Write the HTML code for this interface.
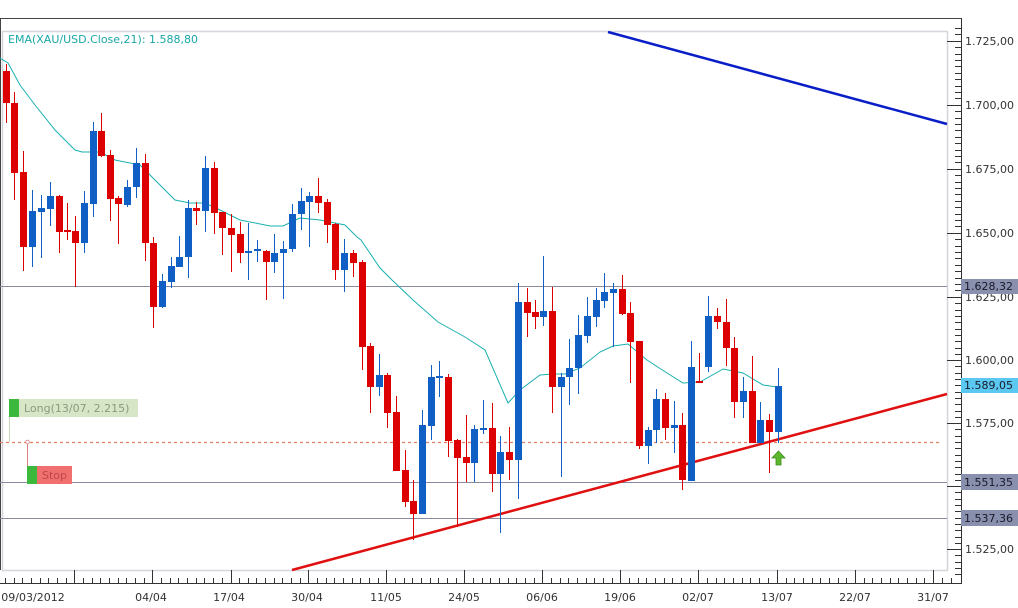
<!DOCTYPE html>
<html><head><meta charset="utf-8"><style>
html,body{margin:0;padding:0;background:#fff;}
svg{display:block;}
text{font-family:"DejaVu Sans","Liberation Sans",sans-serif;}
</style></head><body>
<svg width="1018" height="608" viewBox="0 0 1018 608" xmlns="http://www.w3.org/2000/svg">
<rect width="1018" height="608" fill="#fff"/>
<!-- frames -->
<line x1="0" y1="18.5" x2="961" y2="18.5" stroke="#444" stroke-width="1"/>
<line x1="0.5" y1="18" x2="0.5" y2="570" stroke="#444"/>
<rect x="2.5" y="31.5" width="945" height="539" fill="none" stroke="#d4d6dc" stroke-width="1.5"/>
<line x1="961.5" y1="18" x2="961.5" y2="584" stroke="#333"/>
<line x1="0" y1="583.5" x2="962" y2="583.5" stroke="#333"/>
<text x="8" y="43" font-size="11" fill="#1aa7a7">EMA(XAU/USD.Close,21): 1.588,80</text>
<!-- horizontal levels -->
<g stroke="#8a8aa0" stroke-width="1">
<line x1="0" y1="286.5" x2="947" y2="286.5"/>
<line x1="0" y1="482.5" x2="947" y2="482.5"/>
<line x1="0" y1="518.5" x2="947" y2="518.5"/>
</g>
<line x1="0" y1="442.5" x2="940" y2="442.5" stroke="#e08060" stroke-width="1.2" stroke-dasharray="3,3"/>
<!-- trend lines -->
<line x1="292" y1="570" x2="947" y2="394" stroke="#e01010" stroke-width="2.5"/>
<line x1="608" y1="32" x2="947" y2="124" stroke="#0a1ec8" stroke-width="2.5"/>
<!-- EMA -->
<polyline fill="none" stroke="#1ab0b0" stroke-width="1" points="0,58 8,63 20,85 35,105 55,130 75,150 82,152 100,152 115,160 140,165 150,175 175,200 190,203 205,203 220,210 240,220 270,226 283,226 300,218 320,220 345,225 357,237 361,240 380,268 392,280 413,300 438,322 465,337 485,350 508,403 520,390 540,375 553,374 565,374 580,368 600,352 613,346 628,344 647,360 667,373 683,383 700,382 723,369 743,373 763,385 777,387"/>
<!-- red candles -->
<g fill="#dc0000">
<path stroke="#dc0000" stroke-width="1" fill="none" d="M6.5 64V123M14.5 92V200M23.5 151V271M59.5 195V253M67.5 203V240M75.5 216V287M101.5 113V157M110.5 150V221M118.5 196V244M145.5 154V261M153.5 237V328M196.5 202V225M214.5 162V234M222.5 212V255M231.5 214V272M240.5 222V263M266.5 250V300M318.5 178V213M327.5 199V243M335.5 223V280M353.5 250V277M362.5 260V370M370.5 343V413M387.5 373V428M396.5 396V471M405.5 450V507M413.5 480V540M448.5 374V457M457.5 439V527M466.5 415V482M492.5 403V492M509.5 427V480M527.5 288V337M535.5 300V329M552.5 287V413M622.5 275V315M630.5 302V383M639.5 341V449M665.5 393V440M682.5 413V490M699.5 353V383M717.5 308V329M726.5 299V366M734.5 337V418M752.5 356V443M769.5 414V473"/>
<rect x="3" y="71" width="7" height="32"/><rect x="11" y="103" width="7" height="70"/><rect x="20" y="172" width="7" height="75"/><rect x="56" y="196" width="7" height="36"/><rect x="64" y="230" width="7" height="2"/><rect x="72" y="231" width="7" height="12"/><rect x="98" y="131" width="7" height="25"/><rect x="107" y="155" width="7" height="44"/><rect x="115" y="198" width="7" height="6"/><rect x="142" y="163" width="7" height="80"/><rect x="150" y="243" width="7" height="64"/><rect x="193" y="208" width="7" height="3"/><rect x="211" y="168" width="7" height="45"/><rect x="219" y="212" width="7" height="16"/><rect x="228" y="228" width="7" height="7"/><rect x="237" y="234" width="7" height="19"/><rect x="263" y="251" width="7" height="11"/><rect x="315" y="196" width="7" height="7"/><rect x="324" y="202" width="7" height="23"/><rect x="332" y="224" width="7" height="46"/><rect x="350" y="253" width="7" height="10"/><rect x="359" y="262" width="7" height="85"/><rect x="367" y="346" width="7" height="41"/><rect x="384" y="375" width="7" height="38"/><rect x="393" y="412" width="7" height="59"/><rect x="402" y="470" width="7" height="32"/><rect x="410" y="501" width="7" height="13"/><rect x="445" y="377" width="7" height="64"/><rect x="454" y="440" width="7" height="18"/><rect x="463" y="457" width="7" height="6"/><rect x="489" y="428" width="7" height="46"/><rect x="506" y="452" width="7" height="8"/><rect x="524" y="302" width="7" height="11"/><rect x="532" y="312" width="7" height="5"/><rect x="549" y="311" width="7" height="76"/><rect x="619" y="289" width="7" height="25"/><rect x="627" y="313" width="7" height="29"/><rect x="636" y="341" width="7" height="105"/><rect x="662" y="399" width="7" height="29"/><rect x="679" y="425" width="7" height="55"/><rect x="696" y="381" width="7" height="2"/><rect x="714" y="316" width="7" height="6"/><rect x="723" y="322" width="7" height="26"/><rect x="731" y="348" width="7" height="54"/><rect x="749" y="391" width="7" height="52"/><rect x="766" y="420" width="7" height="12"/>
</g>
<!-- blue candles -->
<g fill="#0f5fc4">
<path stroke="#0f5fc4" stroke-width="1" fill="none" d="M32.5 190V267M41.5 195V258M50.5 182V226M84.5 191V253M93.5 122V217M127.5 180V207M136.5 148V198M162.5 274V308M171.5 257V288M179.5 236V267M188.5 200V278M205.5 156V232M248.5 223V280M257.5 240V262M274.5 234V273M283.5 241V299M292.5 204V252M301.5 188V230M309.5 192V247M344.5 239V292M379.5 354V396M422.5 410V514M431.5 365V440M439.5 361V397M474.5 425V482M483.5 400V434M500.5 436V533M518.5 283V499M543.5 256V326M561.5 373V477M569.5 339V405M578.5 315V394M587.5 297V343M596.5 288V327M604.5 273V308M613.5 283V347M648.5 427V464M656.5 389V443M674.5 401V453M691.5 341V481M708.5 296V372M743.5 377V418M760.5 402V443M778.5 368V443"/>
<rect x="29" y="211" width="7" height="36"/><rect x="38" y="208" width="7" height="4"/><rect x="47" y="196" width="7" height="13"/><rect x="81" y="203" width="7" height="40"/><rect x="90" y="131" width="7" height="73"/><rect x="124" y="187" width="7" height="18"/><rect x="133" y="163" width="7" height="24"/><rect x="159" y="281" width="7" height="26"/><rect x="168" y="266" width="7" height="16"/><rect x="176" y="257" width="7" height="10"/><rect x="185" y="208" width="7" height="49"/><rect x="202" y="168" width="7" height="43"/><rect x="245" y="251" width="7" height="2"/><rect x="254" y="249" width="7" height="2"/><rect x="271" y="253" width="7" height="9"/><rect x="280" y="249" width="7" height="4"/><rect x="289" y="214" width="7" height="35"/><rect x="298" y="201" width="7" height="13"/><rect x="306" y="196" width="7" height="6"/><rect x="341" y="253" width="7" height="17"/><rect x="376" y="375" width="7" height="12"/><rect x="419" y="425" width="7" height="89"/><rect x="428" y="377" width="7" height="49"/><rect x="436" y="376" width="7" height="2"/><rect x="471" y="429" width="7" height="34"/><rect x="480" y="428" width="7" height="2"/><rect x="497" y="452" width="7" height="22"/><rect x="515" y="302" width="7" height="158"/><rect x="540" y="311" width="7" height="6"/><rect x="558" y="377" width="7" height="10"/><rect x="566" y="368" width="7" height="9"/><rect x="575" y="335" width="7" height="33"/><rect x="584" y="316" width="7" height="20"/><rect x="593" y="300" width="7" height="17"/><rect x="601" y="292" width="7" height="9"/><rect x="610" y="289" width="7" height="4"/><rect x="645" y="430" width="7" height="16"/><rect x="653" y="399" width="7" height="31"/><rect x="671" y="425" width="7" height="3"/><rect x="688" y="367" width="7" height="114"/><rect x="705" y="316" width="7" height="51"/><rect x="740" y="391" width="7" height="11"/><rect x="757" y="420" width="7" height="23"/><rect x="775" y="386" width="7" height="46"/>
</g>
<!-- green arrow -->
<path d="M778.5 451 L785 458 L781 458 L781 465 L776 465 L776 458 L772 458 Z" fill="#5cb82c" stroke="#3a8a1a" stroke-width="0.8"/>
<!-- Long/Stop labels -->
<line x1="9.5" y1="417" x2="9.5" y2="442" stroke="#c8d8b8"/>
<rect x="9" y="399" width="10" height="18" fill="#3cb83c"/>
<rect x="19" y="399" width="119" height="18" fill="#d8e6c8"/>
<text x="24" y="412" font-size="11" fill="#8a9a80">Long(13/07, 2.215)</text>
<circle cx="27.5" cy="442" r="1.8" fill="#fff" stroke="#e08080" stroke-width="0.8"/>
<line x1="27.5" y1="444" x2="27.5" y2="466" stroke="#e08080"/>
<rect x="27" y="466" width="10" height="18" fill="#3cb83c"/>
<rect x="37" y="466" width="35" height="18" fill="#f07070"/>
<text x="42" y="479" font-size="11" fill="#c04848">Stop</text>
<!-- y-axis ticks -->
<g stroke="#333" stroke-width="1">
<path d="M947 41.5H961M947 105.5H961M947 169.5H961M947 233.5H961M947 297.5H961M947 360.5H961M947 423.5H961M947 486.5H961M947 549.5H961"/>
<path d="M955 28.5H961M955 34.5H961M955 47.5H961M955 54.5H961M955 60.5H961M955 66.5H961M955 73.5H961M955 79.5H961M955 86.5H961M955 92.5H961M955 98.5H961M955 111.5H961M955 118.5H961M955 124.5H961M955 130.5H961M955 137.5H961M955 143.5H961M955 150.5H961M955 156.5H961M955 162.5H961M955 175.5H961M955 182.5H961M955 188.5H961M955 194.5H961M955 201.5H961M955 207.5H961M955 214.5H961M955 220.5H961M955 226.5H961M955 239.5H961M955 246.5H961M955 252.5H961M955 258.5H961M955 265.5H961M955 271.5H961M955 278.5H961M955 284.5H961M955 290.5H961M955 303.5H961M955 310.5H961M955 316.5H961M955 322.5H961M955 329.5H961M955 335.5H961M955 341.5H961M955 348.5H961M955 354.5H961M955 366.5H961M955 373.5H961M955 379.5H961M955 385.5H961M955 392.5H961M955 398.5H961M955 404.5H961M955 411.5H961M955 417.5H961M955 429.5H961M955 436.5H961M955 442.5H961M955 448.5H961M955 455.5H961M955 461.5H961M955 467.5H961M955 474.5H961M955 480.5H961M955 492.5H961M955 499.5H961M955 505.5H961M955 511.5H961M955 518.5H961M955 524.5H961M955 530.5H961M955 537.5H961M955 543.5H961M955 555.5H961M955 562.5H961M955 568.5H961M955 574.5H961"/>
</g>
<g font-size="11" fill="#333">
<text x="965" y="45">1.725,00</text>
<text x="965" y="109">1.700,00</text>
<text x="965" y="173">1.675,00</text>
<text x="965" y="237">1.650,00</text>
<text x="965" y="301">1.625,00</text>
<text x="965" y="364">1.600,00</text>
<text x="965" y="427">1.575,00</text>
<text x="965" y="553">1.525,00</text>
</g>
<rect x="961" y="279" width="57" height="15" fill="#8890ad"/>
<text x="964" y="290" font-size="11" fill="#1a1a2a">1.628,32</text>
<rect x="961" y="378" width="57" height="15" fill="#5ac8f0"/>
<text x="964" y="389" font-size="11" fill="#1a1a2a">1.589,05</text>
<rect x="961" y="474" width="57" height="16" fill="#8890ad"/>
<text x="964" y="486" font-size="11" fill="#1a1a2a">1.551,35</text>
<rect x="961" y="510" width="57" height="16" fill="#8890ad"/>
<text x="964" y="522" font-size="11" fill="#1a1a2a">1.537,36</text>
<!-- x-axis ticks -->
<g stroke="#333" stroke-width="1">
<path d="M74.5 570V583M152.5 570V583M231.5 570V583M308.5 570V583M386.5 570V583M464.5 570V583M542.5 570V583M620.5 570V583M698.5 570V583M777.5 570V583M855.5 570V583M933.5 570V583"/>
<path d="M5.5 578V583M14.5 578V583M22.5 578V583M31.5 578V583M40.5 578V583M48.5 578V583M57.5 578V583M66.5 578V583M83.5 578V583M92.5 578V583M100.5 578V583M109.5 578V583M118.5 578V583M126.5 578V583M135.5 578V583M144.5 578V583M161.5 578V583M170.5 578V583M178.5 578V583M187.5 578V583M196.5 578V583M204.5 578V583M213.5 578V583M222.5 578V583M239.5 578V583M248.5 578V583M256.5 578V583M265.5 578V583M274.5 578V583M282.5 578V583M291.5 578V583M300.5 578V583M317.5 578V583M326.5 578V583M334.5 578V583M343.5 578V583M352.5 578V583M360.5 578V583M369.5 578V583M378.5 578V583M395.5 578V583M404.5 578V583M412.5 578V583M421.5 578V583M430.5 578V583M438.5 578V583M447.5 578V583M456.5 578V583M473.5 578V583M482.5 578V583M490.5 578V583M499.5 578V583M508.5 578V583M516.5 578V583M525.5 578V583M534.5 578V583M551.5 578V583M560.5 578V583M568.5 578V583M577.5 578V583M586.5 578V583M594.5 578V583M603.5 578V583M612.5 578V583M629.5 578V583M638.5 578V583M646.5 578V583M655.5 578V583M664.5 578V583M672.5 578V583M681.5 578V583M690.5 578V583M707.5 578V583M716.5 578V583M724.5 578V583M733.5 578V583M742.5 578V583M750.5 578V583M759.5 578V583M768.5 578V583M786.5 578V583M794.5 578V583M803.5 578V583M812.5 578V583M820.5 578V583M829.5 578V583M838.5 578V583M846.5 578V583M864.5 578V583M872.5 578V583M881.5 578V583M890.5 578V583M898.5 578V583M907.5 578V583M916.5 578V583M924.5 578V583M942.5 578V583M951.5 578V583"/>
</g>
<g font-size="11" fill="#333" text-anchor="middle">
<text x="33" y="601">09/03/2012</text>
<text x="151" y="601">04/04</text>
<text x="229" y="601">17/04</text>
<text x="307" y="601">30/04</text>
<text x="386" y="601">11/05</text>
<text x="464" y="601">24/05</text>
<text x="542" y="601">06/06</text>
<text x="620" y="601">19/06</text>
<text x="698" y="601">02/07</text>
<text x="777" y="601">13/07</text>
<text x="855" y="601">22/07</text>
<text x="933" y="601">31/07</text>
</g>
</svg>
</body></html>
